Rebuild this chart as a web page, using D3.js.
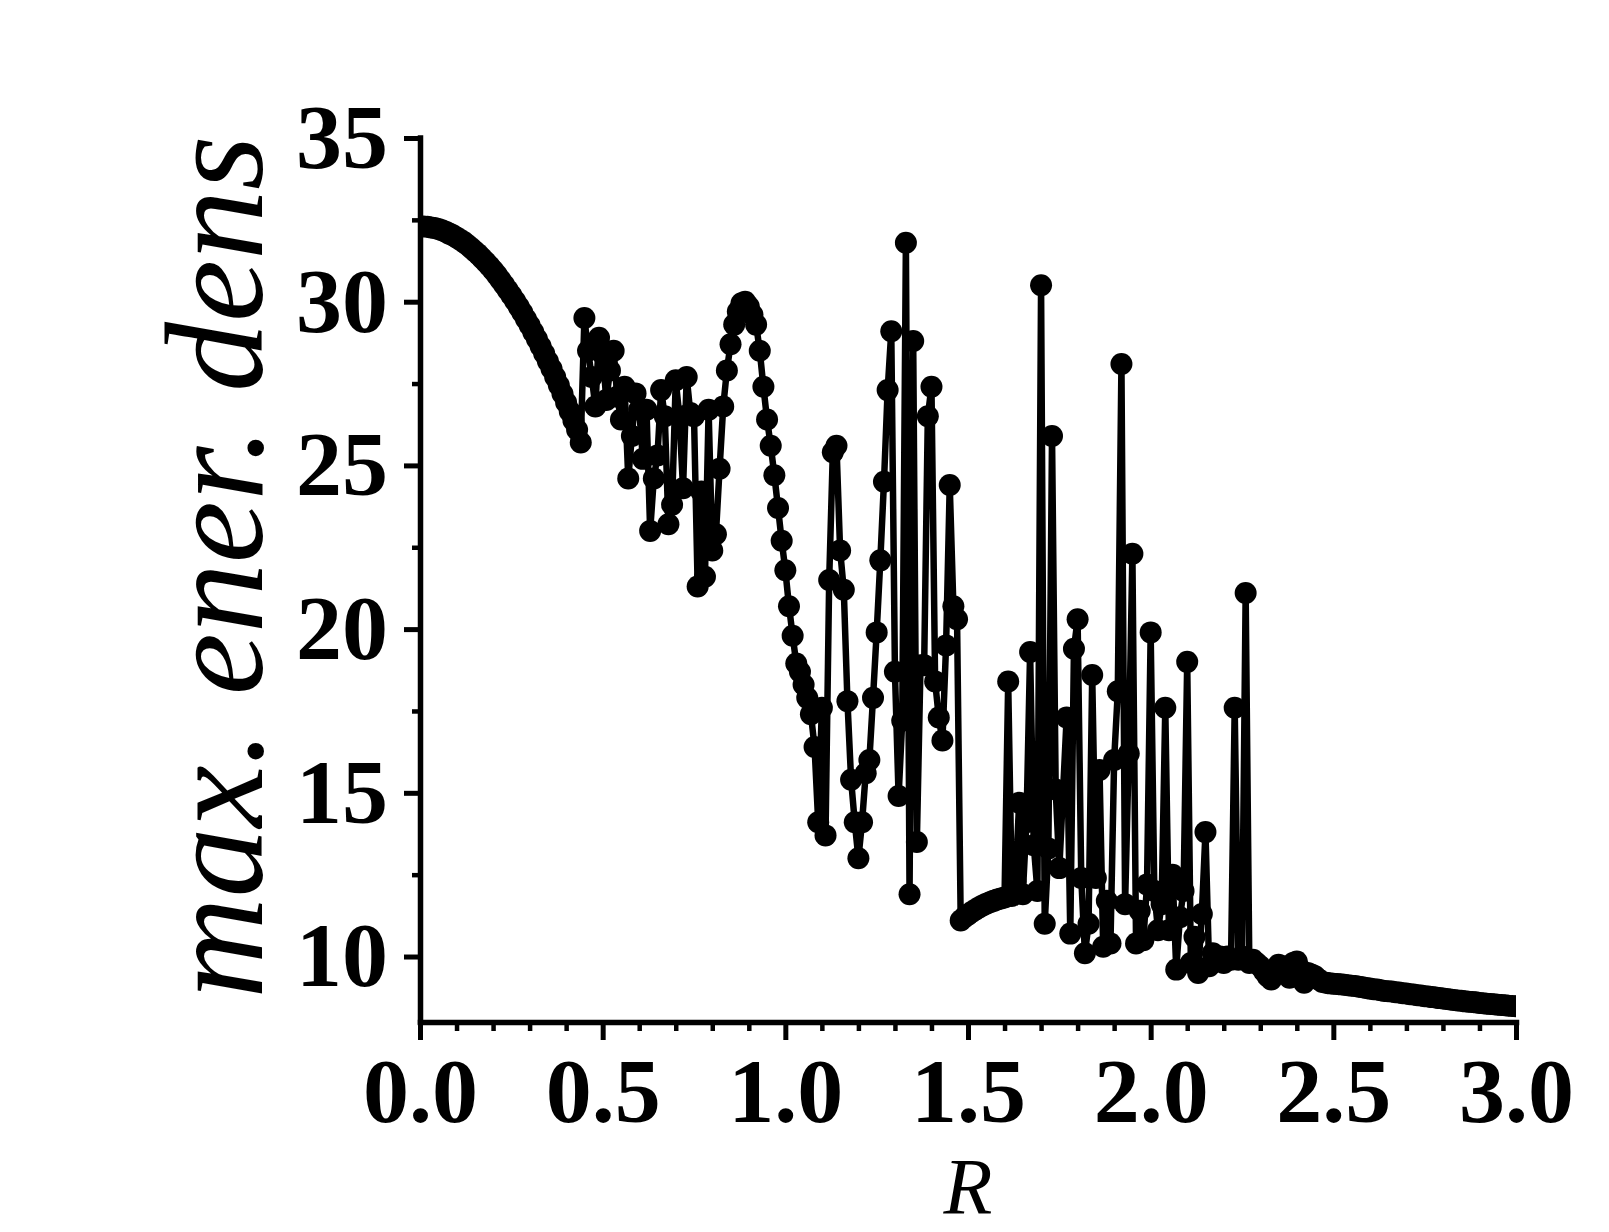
<!DOCTYPE html>
<html><head><meta charset="utf-8">
<script src="https://cdn.jsdelivr.net/npm/d3@7"></script>
<style>html,body{margin:0;padding:0;background:#fff;} svg{display:block}</style>
</head><body><svg id="chart" width="1609" height="1232"></svg>
<script>
// ---- data (R step 0.01 inside each segment) ----
const rStep = 0.01;
const segSmoothStart = { r0: 0.00, v: [
  32.30, 32.30, 32.29, 32.27, 32.25, 32.22, 32.18, 32.14, 32.08, 32.03,
  31.96, 31.89, 31.82, 31.73, 31.64, 31.54, 31.44, 31.33, 31.21, 31.09,
  30.96, 30.82, 30.67, 30.52, 30.36, 30.20, 30.03, 29.85, 29.67, 29.47,
  29.28, 29.07, 28.86, 28.64, 28.42, 28.18, 27.95, 27.70, 27.45, 27.19,
  26.92, 26.65, 26.37, 26.09, 25.70 ]};
const segChaos1 = { r0: 0.45, v: [
  29.5, 28.5, 27.7, 26.8, 28.9, 28.4, 27.0, 27.9, 28.5, 27.1,
  26.4, 27.4, 24.6, 25.9, 27.2, 26.7, 25.2, 26.7, 23.0, 24.6,
  25.3, 27.3, 26.5, 23.2, 23.8, 27.6, 26.5, 24.3, 27.7, 26.6,
  26.5, 21.3, 24.2, 21.6, 26.7, 22.4, 22.9, 24.9 ]};
const segHump = { r0: 0.83, v: [
  26.8, 27.9, 28.7, 29.3, 29.7, 29.95, 30.0, 29.85, 29.6, 29.3,
  28.5, 27.4, 26.4, 25.6, 24.7, 23.7, 22.7, 21.8, 20.7, 19.8,
  18.95, 18.7, 18.3, 17.9, 17.4, 16.4 ]};
const segChaos2 = { r0: 1.09, v: [
  14.1, 17.6, 13.7, 21.5, 25.4, 25.6, 22.4, 21.2, 17.8, 15.4,
  14.1, 13.0, 14.1, 15.6, 16.0, 17.9, 19.9, 22.1, 24.5, 27.3,
  29.1, 18.7, 14.9, 17.2, 31.8, 11.9, 28.8, 13.5, 18.9, 18.9,
  26.5, 27.4, 18.4, 17.3, 16.6, 19.5, 24.4, 20.7, 20.3, 11.1 ]};
const segPlateau = { r0: 1.49, v: [
  11.2, 11.28, 11.36, 11.43, 11.5, 11.56, 11.61, 11.66, 11.7, 11.74,
  11.77, 11.8, 18.4, 11.85, 12.3 ]};
const segChaos3 = { r0: 1.64, v: [
  14.7, 11.9, 14.1, 19.3, 13.4, 12.0, 30.5, 11.0, 13.3, 25.9,
  15.1, 12.7, 15.0, 17.3, 10.7, 19.4, 20.3, 12.4, 10.1, 11.0,
  18.6, 12.4, 15.7, 10.3, 11.7, 10.4, 16.0, 18.1, 28.1, 11.6,
  16.2, 22.3, 10.4, 11.4, 10.5, 12.2, 19.9, 12.0, 10.8, 11.6,
  17.6, 10.8, 12.5, 9.6, 11.2, 12.0, 19.0, 9.8, 10.6, 9.5,
  11.3, 13.8, 9.7, 10.1, 9.9, 10.0, 9.8, 10.0, 9.9, 17.6,
  9.9, 10.0, 21.1, 9.8, 9.9 ]};
const segTail = { r0: 2.29, v: [
  9.8, 9.7, 9.55, 9.4, 9.3, 9.6, 9.75, 9.7, 9.5, 9.35,
  9.8, 9.85, 9.6, 9.2, 9.5, 9.45, 9.4, 9.3, 9.22, 9.2,
  9.18, 9.17, 9.16, 9.15, 9.14, 9.12, 9.11, 9.1, 9.08, 9.06,
  9.04, 9.02, 9.0, 8.99, 8.97, 8.95, 8.94, 8.93, 8.91, 8.9,
  8.88, 8.87, 8.85, 8.84, 8.82, 8.81, 8.79, 8.78, 8.76, 8.75,
  8.73, 8.72, 8.7, 8.69, 8.67, 8.66, 8.65, 8.63, 8.62, 8.61,
  8.6, 8.58, 8.57, 8.56, 8.55, 8.54, 8.53, 8.52, 8.51, 8.5,
  8.49, 8.48 ]};

const xTicks = [0, 0.5, 1.0, 1.5, 2.0, 2.5, 3.0];
const xMinorTicks = [0.1,0.2,0.3,0.4,0.6,0.7,0.8,0.9,1.1,1.2,1.3,1.4,1.6,1.7,1.8,1.9,2.1,2.2,2.3,2.4,2.6,2.7,2.8,2.9];
const yTicks = [10, 15, 20, 25, 30, 35];
const yMinorTicks = [12.5, 17.5, 22.5, 27.5, 32.5];
const xTitle = "R";
const yTitle = "max. ener. dens";

(function () {
  // ---- build points ----
  const segments = [segSmoothStart, segChaos1, segHump, segChaos2, segPlateau, segChaos3, segTail];
  const points = [];
  segments.forEach(s => s.v.forEach((v, i) => points.push({ r: +(s.r0 + i * rStep).toFixed(2), e: v })));

  // ---- layout ----
  const svg = d3.select("#chart");
  const pL = 420, pR = 1516, pT = 138, pB = 1022;
  const x = d3.scaleLinear().domain([0, 3]).range([pL, pR]);
  const y = d3.scaleLinear().domain([8, 35]).range([pB, pT]);
  const font = "'Liberation Serif'";

  svg.append("defs").append("clipPath").attr("id", "clip")
    .append("rect").attr("x", pL).attr("y", 0).attr("width", pR - pL).attr("height", pB);

  const plot = svg.append("g").attr("clip-path", "url(#clip)");
  plot.append("path").datum(points)
    .attr("fill", "none").attr("stroke", "#000").attr("stroke-width", 6.5).attr("stroke-linejoin", "round")
    .attr("d", d3.line().x(d => x(d.r)).y(d => y(d.e)));
  plot.selectAll("circle").data(points).join("circle")
    .attr("cx", d => x(d.r)).attr("cy", d => y(d.e)).attr("r", 11).attr("fill", "#000");

  // ---- axes ----
  function styleAxis(g) {
    g.select(".domain").attr("stroke", "#000").attr("stroke-width", 5.5).attr("stroke-linecap", "square");
    g.selectAll(".tick line").attr("stroke", "#000").attr("stroke-width", 5);
    g.selectAll(".tick text").attr("fill", "#000").style("font-family", font)
      .style("font-weight", "bold").style("font-size", "92px");
  }
  const xMinor = svg.append("g").attr("transform", `translate(0,${pB})`)
    .call(d3.axisBottom(x).tickValues(xMinorTicks).tickSize(9).tickFormat(""));
  xMinor.select(".domain").remove();
  xMinor.selectAll(".tick line").attr("stroke", "#000").attr("stroke-width", 4.5);
  const yMinor = svg.append("g").attr("transform", `translate(${pL},0)`)
    .call(d3.axisLeft(y).tickValues(yMinorTicks).tickSize(8).tickFormat(""));
  yMinor.select(".domain").remove();
  yMinor.selectAll(".tick line").attr("stroke", "#000").attr("stroke-width", 4.5);

  const gx = svg.append("g").attr("transform", `translate(0,${pB})`)
    .call(d3.axisBottom(x).tickValues(xTicks).tickSize(18).tickSizeOuter(0).tickPadding(17).tickFormat(d3.format(".1f")));
  styleAxis(gx);
  const gy = svg.append("g").attr("transform", `translate(${pL},0)`)
    .call(d3.axisLeft(y).tickValues(yTicks).tickSize(16).tickSizeOuter(0).tickPadding(16).tickFormat(d3.format("d")));
  styleAxis(gy);
  gy.select(".domain").attr("d", `M0.5,${pB}V${pT}`);

  // ---- titles ----
  svg.append("text").attr("x", (pL + pR) / 2).attr("y", 1214)
    .attr("text-anchor", "middle").style("font-family", font).style("font-style", "italic")
    .style("font-size", "80px").text(xTitle);
  svg.append("text").attr("transform", "translate(262,567) rotate(-90)")
    .attr("text-anchor", "middle").style("font-family", font).style("font-style", "italic")
    .style("font-size", "140px").text(yTitle);
})();
</script></body></html>
